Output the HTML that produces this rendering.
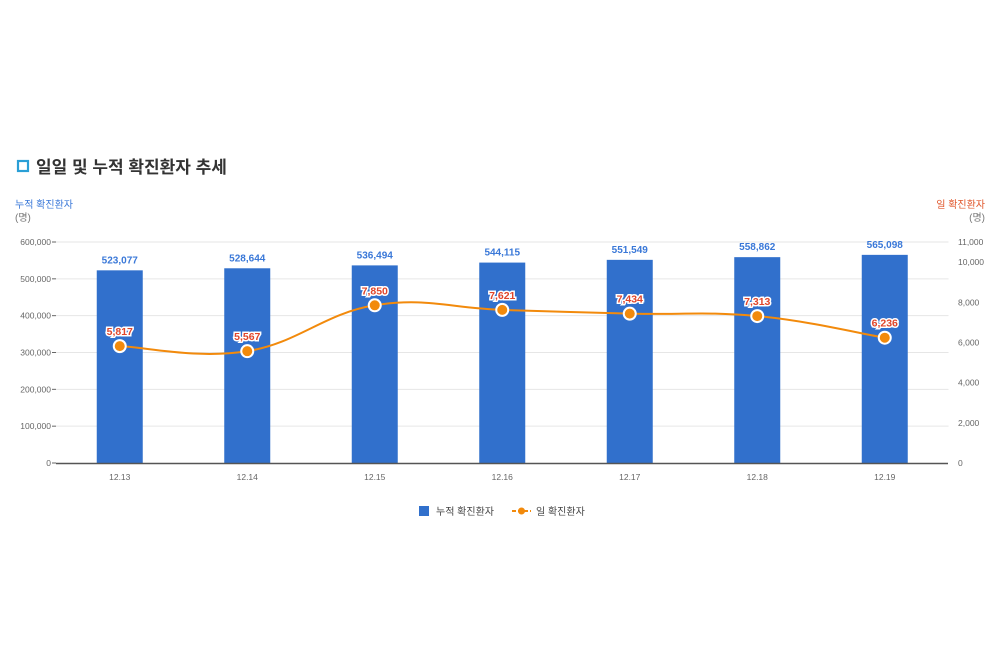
<!DOCTYPE html>
<html><head><meta charset="utf-8"><style>
body{margin:0;background:#fff;width:1000px;height:650px;overflow:hidden;font-family:"Liberation Sans","Noto Sans CJK KR",sans-serif}
</style></head><body>
<svg width="1000" height="650" xmlns="http://www.w3.org/2000/svg" font-family="Liberation Sans, Noto Sans CJK KR, sans-serif">
<rect x="18" y="161" width="10" height="10" fill="#fff" stroke="#2a9fd6" stroke-width="2.2"/>
<text x="36" y="173" font-size="17" font-weight="bold" fill="#333">일일 및 누적 확진환자 추세</text>
<text x="15" y="208" font-size="10" fill="#3a78d8">누적 확진환자</text>
<text x="15" y="221" font-size="10" fill="#777">(명)</text>
<text x="985" y="208" font-size="10" fill="#e0552a" text-anchor="end">일 확진환자</text>
<text x="985" y="221" font-size="10" fill="#777" text-anchor="end">(명)</text>
<g id="grid"></g><g id="bars"></g><g id="line"></g><g id="labels"></g>
<line x1="56" y1="463.5" x2="948" y2="463.5" stroke="#555" stroke-width="1.5"/>
<g>
<rect x="419" y="506" width="10" height="10" fill="#3170cc"/>
<text x="436" y="515" font-size="10" fill="#444">누적 확진환자</text>
<line x1="512" y1="511" x2="531" y2="511" stroke="#f28a0c" stroke-width="2" stroke-dasharray="4,2"/>
<circle cx="521.5" cy="511" r="3.5" fill="#f28a0c"/>
<text x="536" y="515" font-size="10" fill="#444">일 확진환자</text>
</g>
</svg>
<script>
const categories=["12.13","12.14","12.15","12.16","12.17","12.18","12.19"];
const cumulative=[523077,528644,536494,544115,551549,558862,565098];
const daily=[5817,5567,7850,7621,7434,7313,6236];
const leftTicks=[0,100000,200000,300000,400000,500000,600000];
const rightTicks=[0,2000,4000,6000,8000,10000,11000];
const NS="http://www.w3.org/2000/svg";
const X0=56,X1=948.5,Y0=463,Y1=242;
const bw=(X1-X0)/categories.length;
const xc=i=>X0+bw*(i+0.5);
const yL=v=>Y0-v/600000*(Y0-Y1);
const yR=v=>Y0-v/11000*(Y0-Y1);
const fmt=v=>v.toLocaleString('en-US');
function mk(tag,attrs,parent,txt){const e=document.createElementNS(NS,tag);for(const k in attrs)e.setAttribute(k,attrs[k]);if(txt!==undefined)e.textContent=txt;parent.appendChild(e);return e;}
const grid=document.getElementById('grid'),bars=document.getElementById('bars'),line=document.getElementById('line'),labels=document.getElementById('labels');
leftTicks.forEach(t=>{const y=yL(t);
 if(t>0){const g=mk('line',{x1:X0,x2:X1,y1:y,y2:y,stroke:'#e6e6e6'},grid);
 
 }
 const tx=mk('text',{x:X0-5,y:y+3,'font-size':8.5,fill:'#666','text-anchor':'end'},grid,fmt(t));
 
 
 const tk=mk('line',{x1:X0-4,x2:X0,y1:y,y2:y,stroke:'#666'},grid);
 
 });
rightTicks.forEach(t=>{const y=yR(t);
 const tx=mk('text',{x:958,y:y+3,'font-size':8.5,fill:'#666'},grid,fmt(t));
 
 });
categories.forEach((c,i)=>{const x=xc(i);
 const b=mk('rect',{x:x-23,y:yL(cumulative[i]),width:46,height:Y0-yL(cumulative[i]),fill:'#3170cc'},bars);
 
 
 const l=mk('text',{x:x,y:yL(cumulative[i])-7,'font-size':10,'font-weight':'bold',fill:'#3a78d8','text-anchor':'middle'},labels,fmt(cumulative[i]));
 
 
 const xl=mk('text',{x:x,y:480,'font-size':8.5,fill:'#666','text-anchor':'middle'},labels,c);
 
 });
const pts=daily.map((v,i)=>[xc(i),yR(v)]);
let d='M'+pts[0][0]+','+pts[0][1];
for(let i=0;i<pts.length-1;i++){const p0=pts[Math.max(0,i-1)],p1=pts[i],p2=pts[i+1],p3=pts[Math.min(pts.length-1,i+2)];const t=0.2;
 d+=` C${p1[0]+(p2[0]-p0[0])*t},${p1[1]+(p2[1]-p0[1])*t} ${p2[0]-(p3[0]-p1[0])*t},${p2[1]-(p3[1]-p1[1])*t} ${p2[0]},${p2[1]}`;}
const path=mk('path',{d:d,fill:'none',stroke:'#f28a0c','stroke-width':2},line);


pts.forEach((p,i)=>{const c=mk('circle',{cx:p[0],cy:p[1],r:6,fill:'#f28a0c',stroke:'#fff','stroke-width':2},line);
 
 
 const l=mk('text',{x:p[0],y:p[1]-11,'font-size':10.5,'font-weight':'bold',fill:'#e0452a','text-anchor':'middle',stroke:'#fff','stroke-width':3,'paint-order':'stroke'},labels,fmt(daily[i]));
 
 });
</script>
</body></html>
